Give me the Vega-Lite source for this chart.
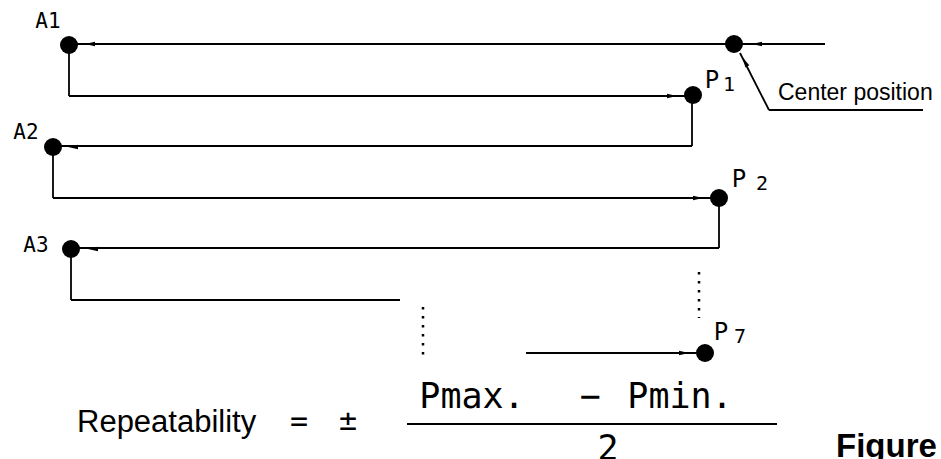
{
  "$schema": "https://vega.github.io/schema/vega-lite/v6.json",
  "width": 941,
  "height": 459,
  "padding": 0,
  "autosize": {"type": "none"},
  "background": "white",
  "config": {"view": {"stroke": null}},
  "encoding": {
    "x": {"field": "x", "type": "quantitative", "scale": {"domain": [0, 941], "nice": false, "zero": false}, "axis": null},
    "y": {"field": "y", "type": "quantitative", "scale": {"domain": [0, 459], "nice": false, "zero": false, "reverse": true}, "axis": null}
  },
  "layer": [
    {
      "data": {"values": [
        {"x": 825, "y": 44, "x2": 69, "y2": 44},
        {"x": 69, "y": 44, "x2": 69, "y2": 96},
        {"x": 69, "y": 96, "x2": 692, "y2": 96},
        {"x": 692, "y": 96, "x2": 692, "y2": 146},
        {"x": 692, "y": 146, "x2": 53, "y2": 146},
        {"x": 53, "y": 146, "x2": 53, "y2": 198},
        {"x": 53, "y": 198, "x2": 719, "y2": 198},
        {"x": 719, "y": 198, "x2": 719, "y2": 248},
        {"x": 719, "y": 248, "x2": 71, "y2": 248},
        {"x": 71, "y": 248, "x2": 71, "y2": 300},
        {"x": 71, "y": 300, "x2": 400, "y2": 300},
        {"x": 526, "y": 353, "x2": 705, "y2": 353},
        {"x": 740, "y": 53, "x2": 769, "y2": 110},
        {"x": 769, "y": 110, "x2": 923, "y2": 110},
        {"x": 407, "y": 424, "x2": 777, "y2": 424}
      ]},
      "mark": {"type": "rule", "color": "black", "strokeWidth": 1.8},
      "encoding": {"x2": {"field": "x2"}, "y2": {"field": "y2"}}
    },
    {
      "data": {"values": [
        {"x": 423, "y": 307, "x2": 423, "y2": 360},
        {"x": 699, "y": 272, "x2": 699, "y2": 318}
      ]},
      "mark": {"type": "rule", "color": "black", "strokeWidth": 2.5, "strokeDash": [2.5, 6.5]},
      "encoding": {"x2": {"field": "x2"}, "y2": {"field": "y2"}}
    },
    {
      "data": {"values": [
        {"name": "A1", "x": 69, "y": 45},
        {"name": "Center", "x": 734, "y": 44},
        {"name": "P1", "x": 693, "y": 95},
        {"name": "A2", "x": 53, "y": 147},
        {"name": "P2", "x": 719, "y": 198},
        {"name": "A3", "x": 71, "y": 249},
        {"name": "P7", "x": 705, "y": 353}
      ]},
      "mark": {"type": "point", "shape": "circle", "filled": true, "color": "black", "opacity": 1, "size": 324}
    },
    {
      "data": {"values": [
        {"x": 90, "y": 44}, {"x": 757, "y": 44}, {"x": 73, "y": 147}, {"x": 93, "y": 249}
      ]},
      "mark": {"type": "point", "shape": "M-1,0L1,-0.45L1,0.45Z", "filled": true, "color": "black", "opacity": 1, "size": 100}
    },
    {
      "data": {"values": [
        {"x": 672, "y": 96}, {"x": 698, "y": 198}, {"x": 684, "y": 353}
      ]},
      "mark": {"type": "point", "shape": "M1,0L-1,-0.45L-1,0.45Z", "filled": true, "color": "black", "opacity": 1, "size": 100}
    },
    {
      "data": {"values": [{"x": 745, "y": 62}]},
      "mark": {"type": "point", "shape": "M-1,0L1,-0.45L1,0.45Z", "filled": true, "color": "black", "opacity": 1, "size": 100, "angle": 62}
    },
    {
      "data": {"values": [
        {"x": 48, "y": 22, "t": "A1"},
        {"x": 26, "y": 133, "t": "A2"},
        {"x": 36, "y": 246, "t": "A3"}
      ]},
      "mark": {"type": "text", "font": "DejaVu Sans Mono", "fontSize": 21, "align": "center", "baseline": "middle", "color": "black"},
      "encoding": {"text": {"field": "t"}}
    },
    {
      "data": {"values": [
        {"x": 729, "y": 85, "t": "1"},
        {"x": 762, "y": 184, "t": "2"},
        {"x": 740, "y": 337, "t": "7"}
      ]},
      "mark": {"type": "text", "font": "DejaVu Sans Mono", "fontSize": 20, "align": "center", "baseline": "middle", "color": "black"},
      "encoding": {"text": {"field": "t"}}
    },
    {
      "data": {"values": [
        {"x": 712, "y": 81, "t": "P"},
        {"x": 739, "y": 180, "t": "P"},
        {"x": 721, "y": 333, "t": "P"}
      ]},
      "mark": {"type": "text", "font": "DejaVu Sans Mono", "fontSize": 24, "align": "center", "baseline": "middle", "color": "black"},
      "encoding": {"text": {"field": "t"}}
    },
    {
      "data": {"values": [
        {"x": 778, "y": 100, "t": "Center position"}
      ]},
      "mark": {"type": "text", "font": "Liberation Sans", "fontSize": 23, "align": "left", "baseline": "alphabetic", "color": "black"},
      "encoding": {"text": {"field": "t"}}
    },
    {
      "data": {"values": [
        {"x": 77, "y": 432, "t": "Repeatability"}
      ]},
      "mark": {"type": "text", "font": "Liberation Sans", "fontSize": 31, "align": "left", "baseline": "alphabetic", "color": "black"},
      "encoding": {"text": {"field": "t"}}
    },
    {
      "data": {"values": [
        {"x": 299, "y": 422, "t": "="},
        {"x": 348, "y": 421, "t": "±"}
      ]},
      "mark": {"type": "text", "font": "DejaVu Sans Mono", "fontSize": 30, "align": "center", "baseline": "middle", "color": "black"},
      "encoding": {"text": {"field": "t"}}
    },
    {
      "data": {"values": [
        {"x": 472, "y": 408, "t": "Pmax."},
        {"x": 590, "y": 408, "t": "−"},
        {"x": 680, "y": 408, "t": "Pmin."},
        {"x": 608, "y": 460, "t": "2"}
      ]},
      "mark": {"type": "text", "font": "DejaVu Sans Mono", "fontSize": 35, "align": "center", "baseline": "alphabetic", "color": "black"},
      "encoding": {"text": {"field": "t"}}
    },
    {
      "data": {"values": [
        {"x": 836, "y": 457, "t": "Figure"}
      ]},
      "mark": {"type": "text", "font": "Liberation Sans", "fontSize": 33, "fontWeight": "bold", "align": "left", "baseline": "alphabetic", "color": "black"},
      "encoding": {"text": {"field": "t"}}
    }
  ]
}
